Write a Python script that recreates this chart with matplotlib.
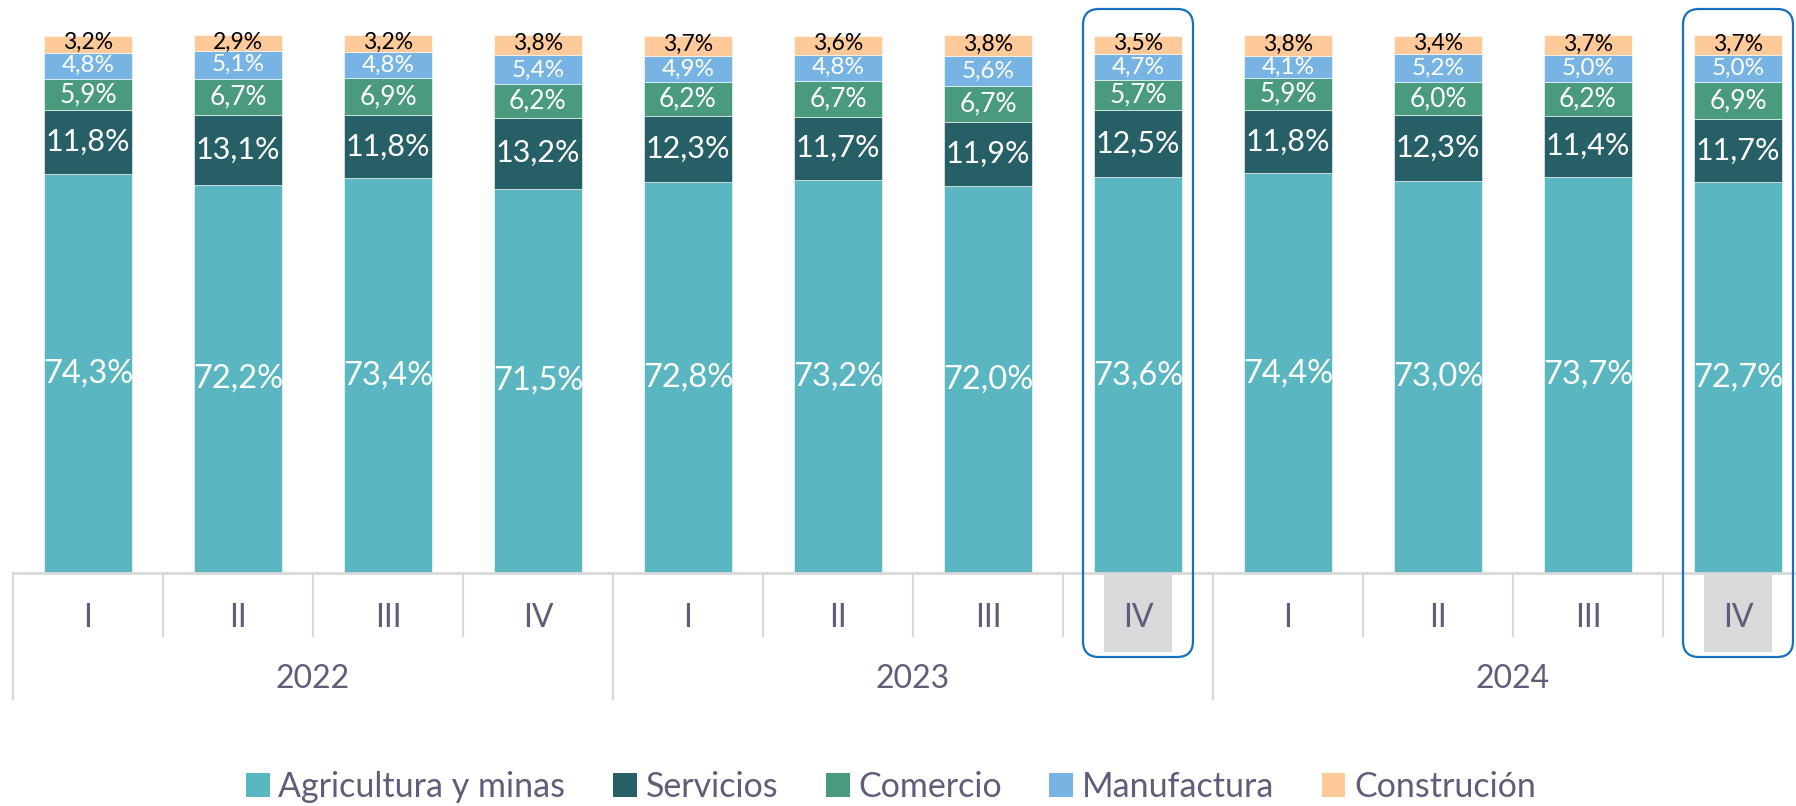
import matplotlib
matplotlib.use("Agg")
import matplotlib.pyplot as plt
import matplotlib.transforms as mtransforms
from matplotlib.patches import FancyBboxPatch, Rectangle, Patch
import numpy as np

quarters = ["I", "II", "III", "IV"] * 3
years = ["2022", "2023", "2024"]
series_names = ["Agricultura y minas", "Servicios", "Comercio", "Manufactura", "Construción"]
agricultura = [74.3, 72.2, 73.4, 71.5, 72.8, 73.2, 72.0, 73.6, 74.4, 73.0, 73.7, 72.7]
servicios = [11.8, 13.1, 11.8, 13.2, 12.3, 11.7, 11.9, 12.5, 11.8, 12.3, 11.4, 11.7]
comercio = [5.9, 6.7, 6.9, 6.2, 6.2, 6.7, 6.7, 5.7, 5.9, 6.0, 6.2, 6.9]
manufactura = [4.8, 5.1, 4.8, 5.4, 4.9, 4.8, 5.6, 4.7, 4.1, 5.2, 5.0, 5.0]
construcion = [3.2, 2.9, 3.2, 3.8, 3.7, 3.6, 3.8, 3.5, 3.8, 3.4, 3.7, 3.7]
highlight_idx = [7, 11]

colors = ["#5AB6C0", "#265F66", "#4A9A7E", "#78B4E3", "#FFCA99"]
label_colors = ["white", "white", "white", "white", "black"]
label_sizes = [23.5, 22, 19, 17.5, 16.5]
label_dy = [0, 0, 0, 0, 0.25]
txt_color = "#5F5E7A"
grid_color = "#D9D9D9"

plt.rcParams['font.family'] = ['Lato', 'DejaVu Sans']

W, H = 1796, 806
fig = plt.figure(figsize=(W / 100, H / 100), dpi=100)
ax_left, ax_top, ax_bottom = 13, 35.5, 573
ax = fig.add_axes([ax_left / W, (H - ax_bottom) / H, (W - ax_left) / W, (ax_bottom - ax_top) / H])
cat_px = 150.0
ax.set_xlim(-0.5, -0.5 + (W - ax_left) / cat_px)
ax.set_ylim(0, 100)
ax.axis("off")

x = np.arange(len(quarters))
series = [agricultura, servicios, comercio, manufactura, construcion]
bottom = np.zeros(len(x))
for vals, col, lc, fs, dy in zip(series, colors, label_colors, label_sizes, label_dy):
    vals = np.array(vals)
    ax.bar(x, vals, bottom=bottom, width=0.593, color=col, edgecolor="white",
           linewidth=0.4, clip_on=False)
    for xi, b, v in zip(x, bottom, vals):
        ax.text(xi, b + v / 2 + dy, f"{v:.1f}".replace(".", ",") + "%", ha="center",
                va="center", color=lc, fontsize=fs, clip_on=False)
    bottom += vals

axh = ax_bottom - ax_top
def yfrac(py):
    return -(py - ax_bottom) / axh

tr = ax.get_xaxis_transform()

# highlight boxes (pixel coords)
for i in highlight_idx:
    cx = ax.transData.transform((i, 0))[0]
    gray = Rectangle((cx - 34, H - 652), 68, 652 - 575, transform=mtransforms.IdentityTransform(),
                     facecolor=grid_color, edgecolor="none", zorder=0)
    fig.add_artist(gray)
    box = FancyBboxPatch((cx - 55, H - 657), 110, 657 - 9,
                         boxstyle="round,pad=0,rounding_size=16",
                         transform=mtransforms.IdentityTransform(),
                         facecolor="none", edgecolor="#1570C0", linewidth=1.6, zorder=5)
    fig.add_artist(box)

# axis line
ax.plot([-0.5, 12], [0, 0], transform=tr, color=grid_color, lw=2, clip_on=False, zorder=3)
# separators
for k in range(13):
    xs = k - 0.5
    bot = 699 if k % 4 == 0 else 636
    ax.plot([xs, xs], [0, yfrac(bot)], transform=tr, color=grid_color, lw=1.6, clip_on=False)

for xi, q in zip(x, quarters):
    ax.text(xi, yfrac(618), q, transform=tr, ha="center", va="center", color=txt_color,
            fontsize=23, zorder=4)
for j, yr in enumerate(years):
    ax.text(j * 4 + 1.5, yfrac(679), yr, transform=tr, ha="center", va="center",
            color=txt_color, fontsize=23)

handles = [Patch(facecolor=c, edgecolor="none") for c in colors]
leg = fig.legend(handles, series_names, loc="center", bbox_to_anchor=(891 / W, (H - 787) / H),
                 ncol=5, frameon=False, fontsize=24.5, handlelength=0.7, handleheight=0.7,
                 handletextpad=0.25, columnspacing=1.4)
for t in leg.get_texts():
    t.set_color(txt_color)

fig.savefig("out.png", dpi=100)
